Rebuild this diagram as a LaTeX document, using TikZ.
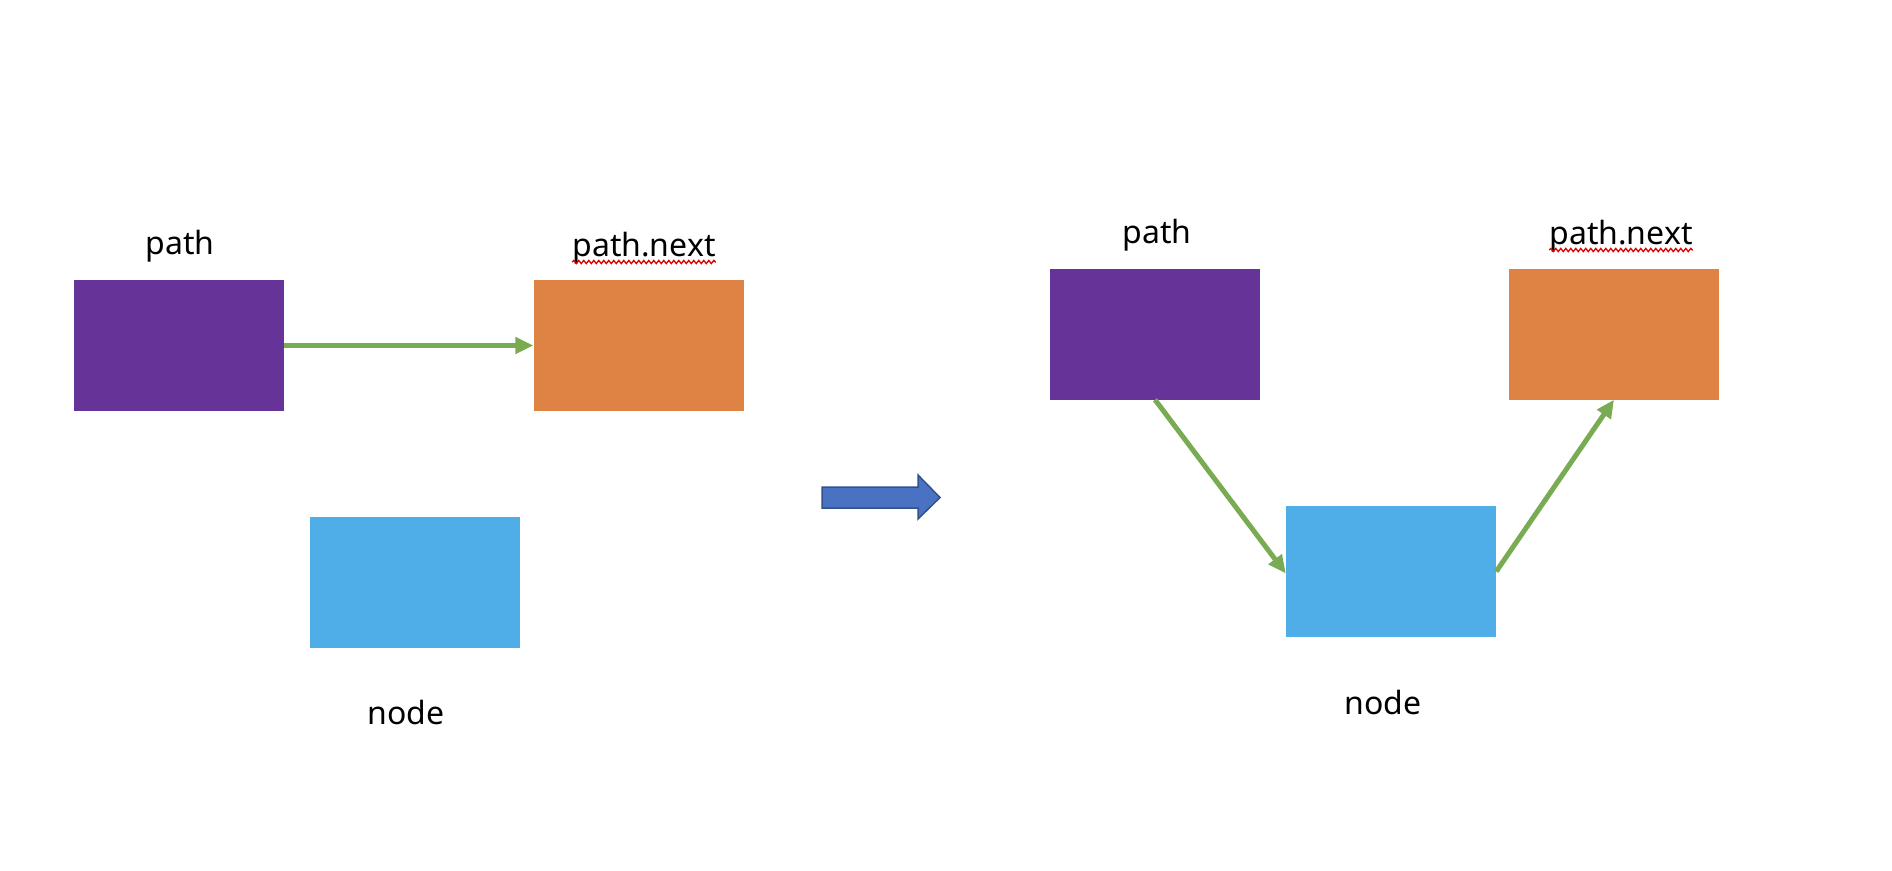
\documentclass[tikz,border=0pt]{standalone}
\usepackage{fontspec}
\setmainfont{Noto Sans}
\usetikzlibrary{arrows.meta,decorations.pathmorphing}
\definecolor{cpurple}{HTML}{663399}
\definecolor{corange}{HTML}{DF8344}
\definecolor{cblue}{HTML}{4FADE8}
\definecolor{cgreen}{HTML}{79AB52}
\definecolor{carrowfill}{HTML}{4A72C2}
\definecolor{carrowline}{HTML}{2F528F}
\tikzset{
  box/.style={draw=none, minimum width=210pt, minimum height=131pt, inner sep=0pt},
  purplebox/.style={box, fill=cpurple},
  orangebox/.style={box, fill=corange},
  bluebox/.style={box, fill=cblue},
  lbl/.style={font=\fontsize{32}{36}\selectfont, anchor=base, inner sep=0pt},
  link/.style={draw=cgreen, line width=5pt, -{Triangle[length=18pt,width=16pt]}},
  spell/.style={draw=red!85!black, line width=1.3pt, decorate, decoration={snake, amplitude=1.6pt, segment length=5pt}}
}
\begin{document}
\begin{tikzpicture}[x=1pt,y=-1pt]
\useasboundingbox (0,0) rectangle (1892,870);
% left state
\node[purplebox] (p1) at (179,345.5) {};
\node[orangebox] (o1) at (638.5,345.5) {};
\node[bluebox] (n1) at (415,582) {};
\node[lbl] (lp1) at (180,254) {path};
\node[lbl] (lo1) at (644,256) {path.next};
\node[lbl] (ln1) at (406,724) {node};
\draw[spell] ([yshift=-6pt]lo1.base west) -- ([yshift=-6pt]lo1.base east);
\draw[link] (p1.east) -- (o1.west);
% transition arrow
\draw[fill=carrowfill, draw=carrowline, line width=1.5pt, line join=miter]
  (822,487) -- (918,487) -- (918,475) -- (940,497.5) -- (918,519) -- (918,508) -- (822,508) -- cycle;
% right state
\node[purplebox] (p2) at (1155,334) {};
\node[orangebox] (o2) at (1614,334) {};
\node[bluebox] (n2) at (1391,571.5) {};
\node[lbl] (lp2) at (1157,243) {path};
\node[lbl] (lo2) at (1621,244) {path.next};
\node[lbl] (ln2) at (1383,714) {node};
\draw[spell] ([yshift=-6pt]lo2.base west) -- ([yshift=-6pt]lo2.base east);
\draw[link] (p2.south) -- ([yshift=-2pt]n2.west);
\draw[link] (n2.east) -- (o2.south);
\end{tikzpicture}
\end{document}
